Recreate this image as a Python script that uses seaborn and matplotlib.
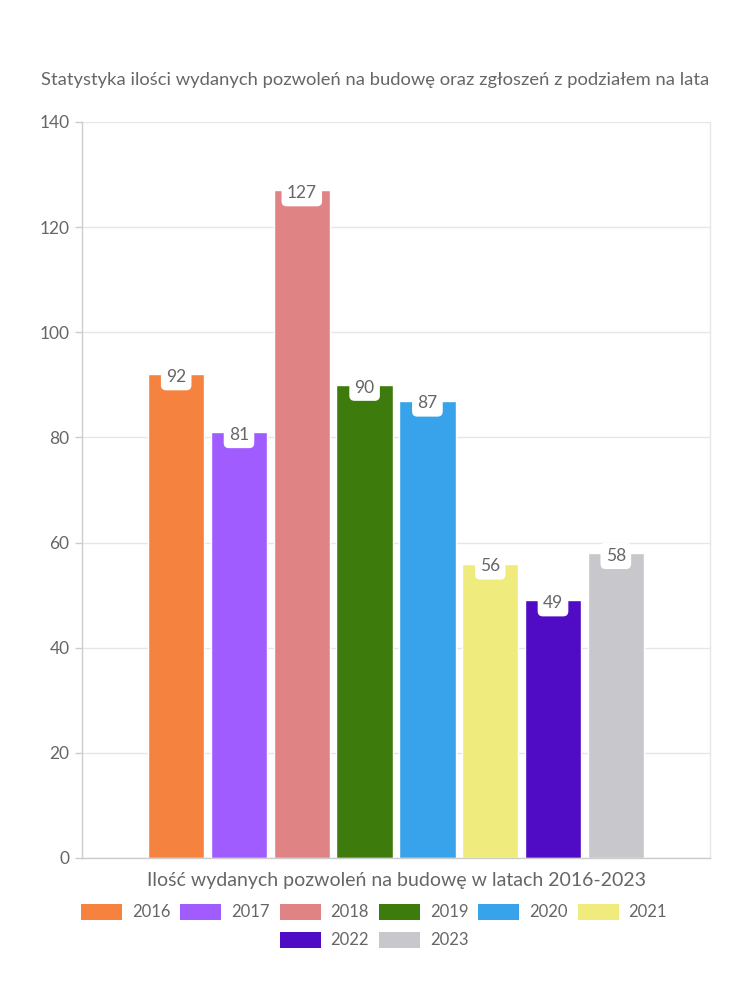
import matplotlib
matplotlib.use("Agg")
import matplotlib.pyplot as plt
import seaborn as sns
import pandas as pd
from matplotlib.patches import Patch

years = ["2016", "2017", "2018", "2019", "2020", "2021", "2022", "2023"]
values = [92, 81, 127, 90, 87, 56, 49, 58]
colors = ["#f5833f", "#a05cff", "#e08385", "#3d7c0c", "#38a3eb", "#f0eb7d", "#500bc4", "#c8c8cc"]
category = "Ilość wydanych pozwoleń na budowę w latach 2016-2023"
title = "Statystyka ilości wydanych pozwoleń na budowę oraz zgłoszeń z podziałem na lata"
yticks = [0, 20, 40, 60, 80, 100, 120, 140]

df = pd.DataFrame({"cat": [category] * len(years), "year": years, "value": values})

sns.set_theme(style="white")
plt.rcParams["font.family"] = ["Lato", "DejaVu Sans"]
txt = "#666666"

fig = plt.figure(figsize=(7.5, 10), dpi=100)
ax = fig.add_axes([82 / 750, 1 - 858 / 1000, (710 - 82) / 750, (858 - 122) / 1000])

sns.barplot(data=df, x="cat", y="value", hue="year", palette=colors,
            width=0.8, gap=0.1, ax=ax, legend=False, saturation=1, zorder=2)

ax.set_ylim(0, 140)
ax.set_yticks(yticks)
ax.set_yticklabels([str(t) for t in yticks], color=txt, fontsize=12.5)
ax.yaxis.grid(True, color="#e6e6e6", linewidth=1, zorder=0)
ax.set_axisbelow(True)
ax.tick_params(axis="y", length=5, color="#cccccc", width=1, pad=4, left=True)
ax.tick_params(axis="x", length=0)
ax.set_xticks([])
ax.set_xlabel(category, color=txt, fontsize=14, labelpad=10)
ax.set_ylabel("")
for s in ["left", "bottom", "right"]:
    ax.spines[s].set_color("#cccccc")
    ax.spines[s].set_linewidth(1)
ax.spines["right"].set_color("#e6e6e6")
ax.spines["top"].set_visible(False)

for p, v in zip(ax.patches, values):
    cx = p.get_x() + p.get_width() / 2
    ax.annotate(str(v), (cx, v), xytext=(0, -2), textcoords="offset points",
                ha="center", va="center", fontsize=12.5, color=txt,
                bbox=dict(boxstyle="round,pad=0.3,rounding_size=0.3", fc="white", ec="none"),
                zorder=5)

fig.text(375 / 750, 1 - 80 / 1000, title, ha="center", va="center", color=txt, fontsize=13.2)

h1 = [Patch(facecolor=c, edgecolor="none") for c in colors]
kw = dict(loc="center", frameon=False, fontsize=12, handlelength=2.45, handleheight=1.1,
          columnspacing=0.6, handletextpad=0.6, labelcolor=txt)
fig.legend(h1[:6], years[:6], bbox_to_anchor=(374 / 750, 1 - 912 / 1000), ncol=6, **kw)
fig.legend(h1[6:], years[6:], bbox_to_anchor=(374 / 750, 1 - 940 / 1000), ncol=2, **kw)

fig.savefig("out.png", dpi=100, facecolor="white")
